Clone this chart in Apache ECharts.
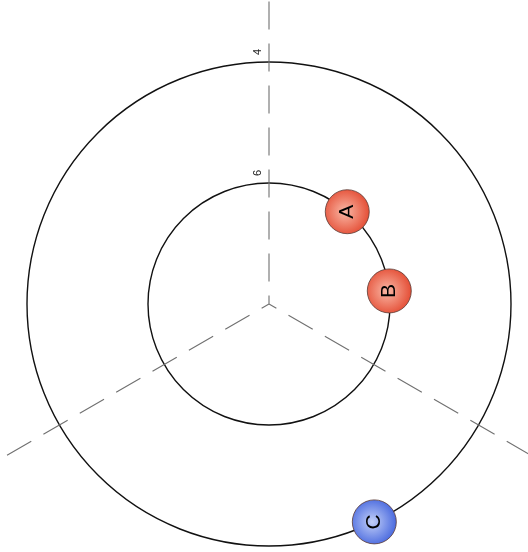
<!DOCTYPE html>
<html>
<head>
<meta charset="utf-8">
<script src="https://cdn.jsdelivr.net/npm/echarts@6/dist/echarts.min.js"></script>
<style>html,body{margin:0;padding:0;background:#fff}#c{width:528px;height:552px}</style>
</head>
<body>
<div id="c"></div>
<script>
// Data
var names = ['A', 'B', 'C'];
var radiusValues = [6, 6, 4];
var angleValues = [40.3, 83.8, 154.2];
var groups = ['red', 'red', 'blue'];
var radiusTicks = [4, 6, 8];

var palette = {
  red: {inner: '#fab8a6', outer: '#e2432a'},
  blue: {inner: '#c2cff8', outer: '#3d5fdc'}
};

var chart = echarts.init(document.getElementById('c'), null, {renderer: 'canvas'});

var pointData = names.map(function (n, i) {
  var p = palette[groups[i]];
  return {
    name: n,
    value: [radiusValues[i], angleValues[i]],
    itemStyle: {
      color: {
        type: 'radial', x: 0.45, y: 0.5, r: 0.6,
        colorStops: [{offset: 0, color: p.inner}, {offset: 1, color: p.outer}]
      }
    }
  };
});

chart.setOption({
  animation: false,
  backgroundColor: '#ffffff',
  polar: [
    {center: [269, 304], radius: 302.5},
    {center: [269, 304], radius: 242}
  ],
  angleAxis: [
    {
      polarIndex: 0, type: 'value', min: 0, max: 360, interval: 120,
      startAngle: 90, clockwise: true,
      axisLine: {show: false}, axisTick: {show: false}, axisLabel: {show: false},
      splitLine: {show: true, lineStyle: {color: '#707070', width: 1.1, type: [28, 14]}}
    },
    {
      polarIndex: 1, type: 'value', min: 0, max: 360, interval: 120,
      startAngle: 90, clockwise: true,
      axisLine: {show: false}, axisTick: {show: false}, axisLabel: {show: false},
      splitLine: {show: false}
    }
  ],
  radiusAxis: [
    {
      polarIndex: 0, type: 'value', min: 3, max: 8, inverse: true,
      axisLine: {show: false}, axisTick: {show: false}, axisLabel: {show: false},
      splitLine: {show: false}
    },
    {
      polarIndex: 1, type: 'value', min: 4, max: 8, interval: 2, inverse: true,
      axisLine: {show: false}, axisTick: {show: false},
      axisLabel: {
        show: true, rotate: 90, fontSize: 11, color: '#222', margin: 6,
        align: 'left', padding: [0, 0, 0, 7],
        fontFamily: 'Liberation Sans, Arial, sans-serif',
        formatter: function (v) { return (v === radiusTicks[0] || v === radiusTicks[1]) ? String(v) : ''; }
      },
      splitLine: {show: true, lineStyle: {color: '#111', width: 1.4, type: 'solid'}}
    }
  ],
  series: [{
    type: 'scatter',
    coordinateSystem: 'polar',
    polarIndex: 1,
    symbol: 'circle',
    symbolSize: 44,
    data: pointData,
    itemStyle: {borderColor: '#5a3a34', borderWidth: 0.8, opacity: 1},
    label: {
      show: true, position: 'inside', rotate: 90,
      formatter: '{b}', fontSize: 21, color: '#000',
      fontFamily: 'Liberation Sans, Arial, sans-serif'
    },
    z: 5
  }]
});
</script>
</body>
</html>
